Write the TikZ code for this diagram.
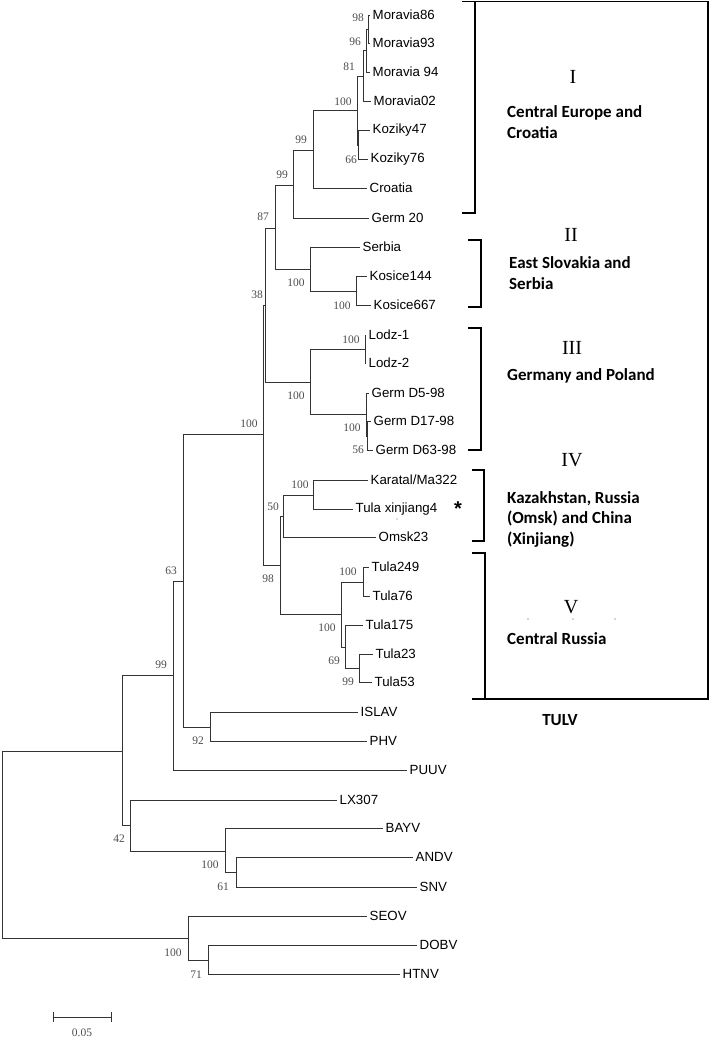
\documentclass[tikz,border=0pt]{standalone}
\usepackage{fontspec}
\setmainfont{Liberation Sans}
\newfontfamily\bootfont{Liberation Serif}
\newfontfamily\romanfont{Liberation Serif}
\newfontfamily\groupfont{Carlito}
\usepackage{tikz}
\usetikzlibrary{positioning, calc}
\tikzset{leaf/.style={anchor=west, inner sep=2.5pt, font=\fontsize{13.3}{15}\selectfont},
         boot/.style={inner sep=0pt, text=black!70, font=\bootfont\fontsize{11.5}{13}\selectfont},
         branch/.style={draw=black!80, line width=0.9pt},
         bracket/.style={draw, line width=1.6pt},
         numeral/.style={inner sep=0pt, font=\romanfont\fontsize{20}{22}\selectfont},
         group/.style={anchor=west, align=left, inner sep=0pt, font=\groupfont\bfseries\fontsize{17}{20.5}\selectfont}}

\begin{document}
\begin{tikzpicture}[x=1pt, y=-1pt]
    \useasboundingbox (0,0) rectangle (709,1038);

    % internal nodes
    \coordinate (root) at (2,844);
    \coordinate (nA) at (122,751);
    \coordinate (n99b) at (173,675);
    \coordinate (n63) at (183,581);
    \coordinate (n100big) at (263,434);
    \coordinate (n38) at (265,305);
    \coordinate (n87) at (275,228);
    \coordinate (n99c) at (293,185);
    \coordinate (n99d) at (313,150);
    \coordinate (nMK) at (357,110);
    \coordinate (n81) at (363,76);
    \coordinate (n96) at (366,50);
    \coordinate (n98m) at (368,29);
    \coordinate (nKoz) at (358,145);
    \coordinate (nSer) at (310,269);
    \coordinate (nKos) at (356,291);
    \coordinate (nLG) at (310,382);
    \coordinate (nLodz) at (365,349);
    \coordinate (nGermD) at (366,414);
    \coordinate (n56) at (367,436);
    \coordinate (n98) at (280,565);
    \coordinate (n50) at (283,516);
    \coordinate (nKar) at (313,495);
    \coordinate (nTula) at (341,614);
    \coordinate (nT249) at (363,582);
    \coordinate (n69) at (345,647);
    \coordinate (n99t) at (359,668);
    \coordinate (n92) at (210,727);
    \coordinate (n42) at (130,825);
    \coordinate (nB) at (225,851);
    \coordinate (n61) at (236,872);
    \coordinate (nS) at (188,938);
    \coordinate (n71) at (208,960);

    % leaves
    \node[leaf] (moravia86) at (370,15) {Moravia86};
    \node[leaf] (moravia93) at (370,43) {Moravia93};
    \node[leaf] (moravia94) at (370,72) {Moravia 94};
    \node[leaf] (moravia02) at (371,101) {Moravia02};
    \node[leaf] (koziky47) at (370,130) {Koziky47};
    \node[leaf] (koziky76) at (368,159) {Koziky76};
    \node[leaf] (croatia) at (367,188) {Croatia};
    \node[leaf] (germ20) at (369,218) {Germ 20};
    \node[leaf] (serbia) at (360,247) {Serbia};
    \node[leaf] (kosice144) at (367,276) {Kosice144};
    \node[leaf] (kosice667) at (371,305) {Kosice667};
    \node[leaf] (lodz1) at (366,335) {Lodz-1};
    \node[leaf] (lodz2) at (366,363) {Lodz-2};
    \node[leaf] (germd5) at (369,393) {Germ D5-98};
    \node[leaf] (germd17) at (371,421) {Germ D17-98};
    \node[leaf] (germd63) at (373,450) {Germ D63-98};
    \node[leaf] (karatal) at (368,480) {Karatal/Ma322};
    \node[leaf] (xinjiang) at (353,509) {Tula xinjiang4};
    \node[leaf] (omsk23) at (376,537) {Omsk23};
    \node[leaf] (tula249) at (369,567) {Tula249};
    \node[leaf] (tula76) at (370,596) {Tula76};
    \node[leaf] (tula175) at (363,625) {Tula175};
    \node[leaf] (tula23) at (373,654) {Tula23};
    \node[leaf] (tula53) at (372,682) {Tula53};
    \node[leaf] (islav) at (358,712) {ISLAV};
    \node[leaf] (phv) at (367,741) {PHV};
    \node[leaf] (puuv) at (407,770) {PUUV};
    \node[leaf] (lx307) at (337,800) {LX307};
    \node[leaf] (bayv) at (383,828) {BAYV};
    \node[leaf] (andv) at (413,857) {ANDV};
    \node[leaf] (snv) at (417,887) {SNV};
    \node[leaf] (seov) at (367,916) {SEOV};
    \node[leaf] (dobv) at (417,945) {DOBV};
    \node[leaf] (htnv) at (400,974) {HTNV};

    % branches
    \draw[branch] (root) |- (nA);
    \draw[branch] (root) |- (nS);
    \draw[branch] (nA) |- (n99b);
    \draw[branch] (nA) |- (n42);
    \draw[branch] (n99b) |- (n63);
    \draw[branch] (n99b) |- (puuv.west);
    \draw[branch] (n63) |- (n100big);
    \draw[branch] (n63) |- (n92);
    \draw[branch] (n100big) |- (n38);
    \draw[branch] (n100big) |- (n98);
    \draw[branch] (n38) |- (n87);
    \draw[branch] (n38) |- (nLG);
    \draw[branch] (n87) |- (n99c);
    \draw[branch] (n87) |- (nSer);
    \draw[branch] (n99c) |- (n99d);
    \draw[branch] (n99c) |- (germ20.west);
    \draw[branch] (n99d) |- (nMK);
    \draw[branch] (n99d) |- (croatia.west);
    \draw[branch] (nMK) |- (n81);
    \draw[branch] (nMK) |- (nKoz);
    \draw[branch] (n81) |- (n96);
    \draw[branch] (n81) |- (moravia02.west);
    \draw[branch] (n96) |- (n98m);
    \draw[branch] (n96) |- (moravia94.west);
    \draw[branch] (n98m) |- (moravia86.west);
    \draw[branch] (n98m) |- (moravia93.west);
    \draw[branch] (nKoz) |- (koziky47.west);
    \draw[branch] (nKoz) |- (koziky76.west);
    \draw[branch] (nSer) |- (serbia.west);
    \draw[branch] (nSer) |- (nKos);
    \draw[branch] (nKos) |- (kosice144.west);
    \draw[branch] (nKos) |- (kosice667.west);
    \draw[branch] (nLG) |- (nLodz);
    \draw[branch] (nLG) |- (nGermD);
    \draw[branch] (nLodz) |- (lodz1.west);
    \draw[branch] (nLodz) |- (lodz2.west);
    \draw[branch] (nGermD) |- (germd5.west);
    \draw[branch] (nGermD) |- (n56);
    \draw[branch] (n56) |- (germd17.west);
    \draw[branch] (n56) |- (germd63.west);
    \draw[branch] (n98) |- (n50);
    \draw[branch] (n98) |- (nTula);
    \draw[branch] (n50) |- (nKar);
    \draw[branch] (n50) |- (omsk23.west);
    \draw[branch] (nKar) |- (karatal.west);
    \draw[branch] (nKar) |- (xinjiang.west);
    \draw[branch] (nTula) |- (nT249);
    \draw[branch] (nTula) |- (n69);
    \draw[branch] (nT249) |- (tula249.west);
    \draw[branch] (nT249) |- (tula76.west);
    \draw[branch] (n69) |- (tula175.west);
    \draw[branch] (n69) |- (n99t);
    \draw[branch] (n99t) |- (tula23.west);
    \draw[branch] (n99t) |- (tula53.west);
    \draw[branch] (n92) |- (islav.west);
    \draw[branch] (n92) |- (phv.west);
    \draw[branch] (n42) |- (lx307.west);
    \draw[branch] (n42) |- (nB);
    \draw[branch] (nB) |- (bayv.west);
    \draw[branch] (nB) |- (n61);
    \draw[branch] (n61) |- (andv.west);
    \draw[branch] (n61) |- (snv.west);
    \draw[branch] (nS) |- (seov.west);
    \draw[branch] (nS) |- (n71);
    \draw[branch] (n71) |- (dobv.west);
    \draw[branch] (n71) |- (htnv.west);

    % bootstrap values
    \node[boot] (b98m) at (358,18) {98};
    \node[boot] (b96) at (355,42) {96};
    \node[boot] (b81) at (349,67) {81};
    \node[boot] (bMK) at (343,102) {100};
    \node[boot] (bKoz) at (351,160) {66};
    \node[boot] (b99d) at (301,140) {99};
    \node[boot] (b99c) at (282,175) {99};
    \node[boot] (b87) at (263,217) {87};
    \node[boot] (bSer) at (296,283) {100};
    \node[boot] (bKos) at (342,306) {100};
    \node[boot] (b38) at (257,295) {38};
    \node[boot] (bLodz) at (351,340) {100};
    \node[boot] (bLG) at (296,396) {100};
    \node[boot] (bGermD) at (352,428) {100};
    \node[boot] (b56) at (358,450) {56};
    \node[boot] (b100big) at (249,424) {100};
    \node[boot] (bKar) at (300,485) {100};
    \node[boot] (b50) at (273,507) {50};
    \node[boot] (b98) at (268,579) {98};
    \node[boot] (bT249) at (348,572) {100};
    \node[boot] (bTula) at (327,628) {100};
    \node[boot] (b69) at (334,661) {69};
    \node[boot] (b99t) at (348,682) {99};
    \node[boot] (b63) at (171,571) {63};
    \node[boot] (b99b) at (161,665) {99};
    \node[boot] (b92) at (198,741) {92};
    \node[boot] (b42) at (119,839) {42};
    \node[boot] (bB) at (210,865) {100};
    \node[boot] (b61) at (223,887) {61};
    \node[boot] (bS) at (173,953) {100};
    \node[boot] (b71) at (196,975) {71};

    % asterisk and stray dots
    \node[inner sep=0pt, font=\bfseries\fontsize{20}{20}\selectfont] (star) at (458,509) {*};
    \fill[black!60] (397,519) circle (0.6pt);
    \fill[black!70] (528,619) circle (0.7pt) (573,619) circle (0.7pt) (615,619) circle (0.7pt);

    % clade brackets and box
    \draw[bracket] (462,1.5) -- (708,1.5) -- (708,699) -- (472,699);
    \draw[bracket] (475,1.5) -- (475,213) -- (462,213);
    \draw[bracket] (468,240) -- (481,240) -- (481,307) -- (468,307);
    \draw[bracket] (468,328) -- (481,328) -- (481,450) -- (468,450);
    \draw[bracket, line width=2.4pt] (472,470) -- (484,470) -- (484,541) -- (472,541);
    \draw[bracket] (472,553) -- (485,553) -- (485,699);

    % clade names
    \node[numeral] (r1) at (573,77) {I};
    \node[group] (g1) at (507,122) {Central Europe and\\Croatia};
    \node[numeral] (r2) at (571,235) {II};
    \node[group] (g2) at (509,273) {East Slovakia and\\Serbia};
    \node[numeral] (r3) at (572,348) {III};
    \node[group] (g3) at (507,376) {Germany and Poland};
    \node[numeral] (r4) at (572,460) {IV};
    \node[group] (g4) at (507,519) {Kazakhstan, Russia\\(Omsk) and China\\(Xinjiang)};
    \node[numeral] (r5) at (571,607) {V};
    \node[group] (g5) at (507,639) {Central Russia};
    \node[group, anchor=center] (tulv) at (560,720) {TULV};

    % scale bar
    \draw[branch] (53,1017) -- (111,1017);
    \draw[branch] (53,1012) -- (53,1022);
    \draw[branch] (111,1012) -- (111,1022);
    \node[boot] (scale) at (82,1033) {0.05};
\end{tikzpicture}
\end{document}
